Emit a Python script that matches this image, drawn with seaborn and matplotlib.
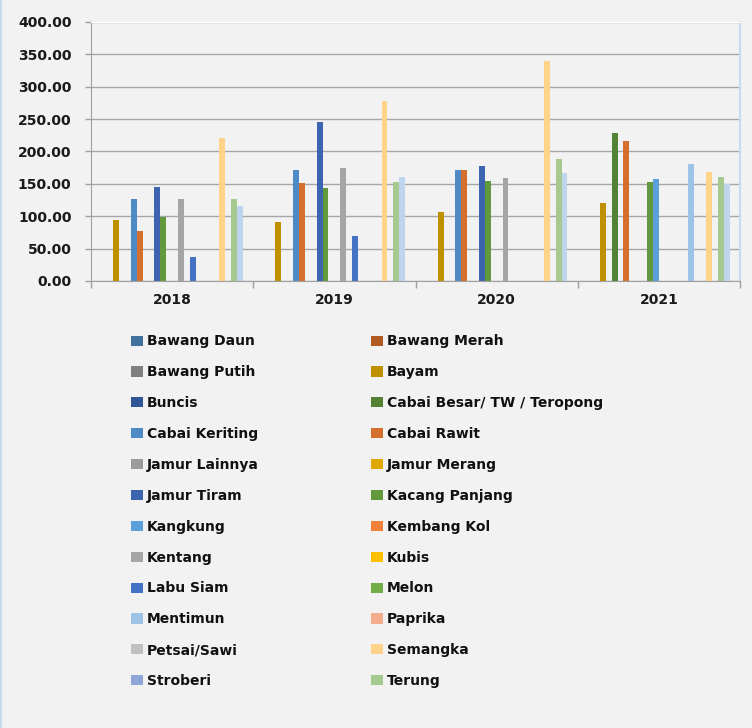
import numpy as np
import pandas as pd
import matplotlib
matplotlib.use("Agg")
import matplotlib.pyplot as plt
from matplotlib.patches import Patch
from matplotlib.lines import Line2D
import seaborn as sns

nan = np.nan
years = ["2018", "2019", "2020", "2021"]

commodities = ["Bawang Daun", "Bawang Merah", "Bawang Putih", "Bayam", "Buncis",
               "Cabai Besar/ TW / Teropong", "Cabai Keriting", "Cabai Rawit",
               "Jamur Lainnya", "Jamur Merang", "Jamur Tiram", "Kacang Panjang",
               "Kangkung", "Kembang Kol", "Kentang", "Kubis", "Labu Siam", "Melon",
               "Mentimun", "Paprika", "Petsai/Sawi", "Semangka", "Stroberi", "Terung",
               "Tomat", "Wortel"]

bawang_daun = [nan, nan, nan, nan]
bawang_merah = [nan, nan, nan, nan]
bawang_putih = [nan, nan, nan, nan]
bayam = [94, 90.5, 106.5, 120]
buncis = [nan, nan, nan, nan]
cabai_besar = [nan, nan, nan, 228]
cabai_keriting = [126, 171, 171, nan]
cabai_rawit = [77, 151, 171, 216]
jamur_lainnya = [nan, nan, nan, nan]
jamur_merang = [nan, nan, nan, nan]
jamur_tiram = [145.5, 246, 177.5, nan]
kacang_panjang = [99, 143.5, 155, 153]
kangkung = [nan, nan, nan, 157]
kembang_kol = [nan, nan, nan, nan]
kentang = [126, 175, 159, nan]
kubis = [nan, nan, nan, nan]
labu_siam = [37, 69, nan, nan]
melon = [nan, nan, nan, nan]
mentimun = [nan, nan, nan, 180.5]
paprika = [nan, nan, nan, nan]
petsai = [nan, nan, nan, nan]
semangka = [221, 278, 340.5, 169]
stroberi = [nan, nan, nan, nan]
terung = [126, 153, 188.5, 161]
tomat = [116, 161, 167, 150]
wortel = [nan, nan, nan, nan]

series = [bawang_daun, bawang_merah, bawang_putih, bayam, buncis, cabai_besar,
          cabai_keriting, cabai_rawit, jamur_lainnya, jamur_merang, jamur_tiram,
          kacang_panjang, kangkung, kembang_kol, kentang, kubis, labu_siam, melon,
          mentimun, paprika, petsai, semangka, stroberi, terung, tomat, wortel]

colors = ["#41719C", "#B15B22", "#7F7F7F", "#BF9000", "#2F5597", "#548235",
          "#4E8BC6", "#D46F2E", "#9A9A9A", "#E0A800", "#3D64AF", "#63993D",
          "#5B9FDB", "#F08138", "#A5A5A5", "#FFC000", "#4472C4", "#70AD47",
          "#9DC3E6", "#F4AD8C", "#C0C0C0", "#FFD48A", "#8FA6D8", "#A5C98E",
          "#BFD5EE", "#F8CBAD"]

rows = []
for name, vals in zip(commodities, series):
    for y, v in zip(years, vals):
        rows.append({"Tahun": y, "Komoditas": name, "Nilai": v})
df = pd.DataFrame(rows).dropna()

bg = "#F2F2F2"
fig = plt.figure(figsize=(7.52, 7.28), dpi=100, facecolor=bg)
W, H = 752, 728
ax = fig.add_axes([91 / W, 1 - 281 / H, (740 - 91) / W, (281 - 22) / H])
ax.set_facecolor(bg)

sns.barplot(data=df, x="Tahun", y="Nilai", hue="Komoditas", order=years,
            hue_order=commodities, palette=dict(zip(commodities, colors)),
            saturation=1, width=26 / 27.5, errorbar=None, linewidth=0,
            legend=False, ax=ax)

ax.set_xlim(-0.5, 3.5)
ax.set_ylim(0, 400)
yt = np.arange(0, 401, 50)
ax.set_yticks(yt)
ax.set_yticklabels([f"{v:.2f}" for v in yt])
ax.set_xlabel("")
ax.set_ylabel("")
ax.yaxis.grid(True, color="#A6A6A6", linewidth=1.0)
ax.xaxis.grid(False)
ax.set_axisbelow(True)

ax.tick_params(axis="y", length=4, width=1, color="#A0A0A0", pad=10,
               labelsize=10, labelcolor="#1A1A1A")
ax.tick_params(axis="x", which="major", length=0, pad=9, labelsize=10,
               labelcolor="#1A1A1A")
ax.set_xticks([-0.5, 0.5, 1.5, 2.5, 3.5], minor=True)
ax.tick_params(axis="x", which="minor", length=5, width=1, color="#A0A0A0")
for lab in ax.get_xticklabels() + ax.get_yticklabels():
    lab.set_fontweight("bold")

ax.spines["left"].set_color("#A0A0A0")
ax.spines["bottom"].set_color("#A0A0A0")
ax.spines["top"].set_color("#FFFFFF")
ax.spines["right"].set_color("#C6DAF0")
ax.spines["right"].set_linewidth(1.5)

legend_names = commodities[:24]
handles = [Patch(facecolor=c, edgecolor="none") for c in colors[:24]]
left_idx = list(range(0, 24, 2))
right_idx = list(range(1, 24, 2))
common = dict(loc="upper left", frameon=False, borderpad=0, borderaxespad=0,
              handlelength=0.85, handleheight=0.75, handletextpad=0.3,
              labelspacing=1.215, prop={"weight": "bold", "size": 10})
leg1 = fig.legend([handles[i] for i in left_idx], [legend_names[i] for i in left_idx],
                  bbox_to_anchor=(131 / W, 1 - 334.5 / H), **common)
leg2 = fig.legend([handles[i] for i in right_idx], [legend_names[i] for i in right_idx],
                  bbox_to_anchor=(371 / W, 1 - 334.5 / H), **common)
for leg in (leg1, leg2):
    for t in leg.get_texts():
        t.set_color("#111111")

fig.add_artist(Line2D([1 / W, 1 / W], [0, 1], color="#C6DAF0", linewidth=1.5,
                      transform=fig.transFigure))

fig.savefig("out.png", dpi=100, facecolor=bg)
